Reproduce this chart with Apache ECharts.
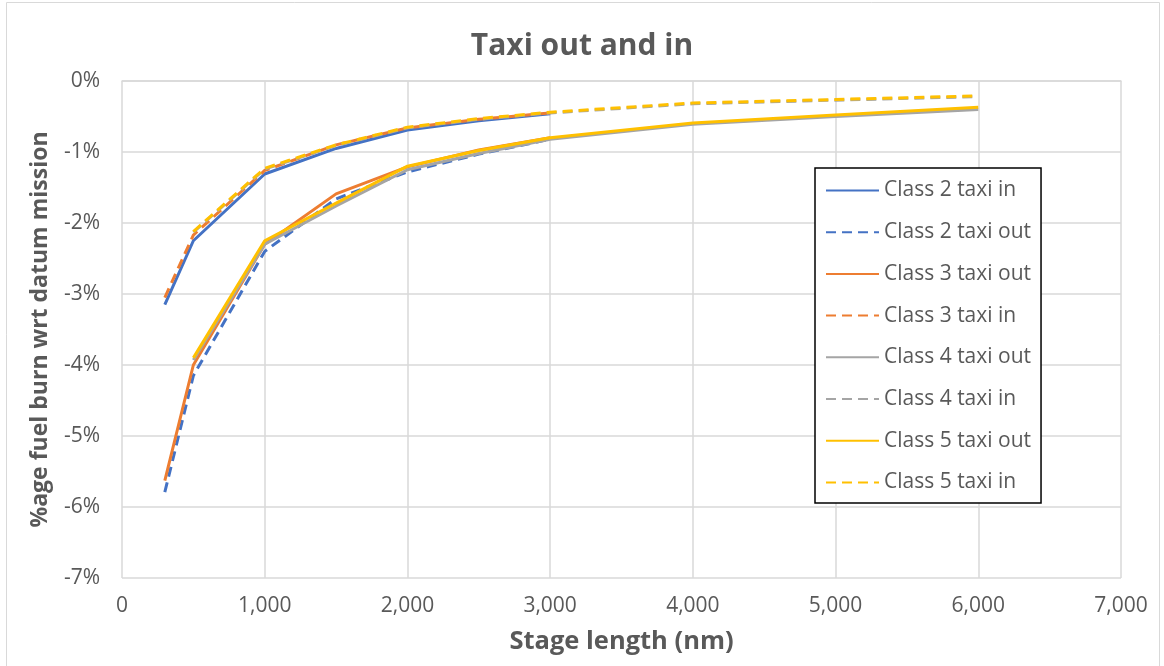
<!DOCTYPE html>
<html><head><meta charset="utf-8">
<script src="https://cdn.jsdelivr.net/npm/echarts@6/dist/echarts.min.js"></script>
<style>html,body{margin:0;padding:0;background:#fff}#c{width:1164px;height:666px}</style>
</head><body><div id="c"></div>
<script>
const stageA = [300, 500, 1000, 1500, 2000, 2500, 3000];
const stageB = [500, 1000, 1500, 2000, 2500, 3000, 4000, 5000, 6000];
const class2In  = [-3.15, -2.25, -1.31, -0.95, -0.69, -0.56, -0.46];
const class2Out = [-5.79, -4.15, -2.40, -1.66, -1.28, -1.03, -0.82];
const class3Out = [-5.63, -4.00, -2.30, -1.59, -1.21, -0.97, -0.80];
const class3In  = [-3.05, -2.17, -1.26, -0.90, -0.66, -0.54, -0.45];
const class4Out = [-3.93, -2.30, -1.76, -1.25, -1.02, -0.82, -0.61, -0.50, -0.40];
const class4In  = [-2.13, -1.24, -0.91, -0.66, -0.54, -0.45, -0.32, -0.27, -0.22];
const class5Out = [-3.90, -2.25, -1.72, -1.20, -0.98, -0.80, -0.59, -0.48, -0.37];
const class5In  = [-2.12, -1.23, -0.90, -0.65, -0.53, -0.44, -0.31, -0.26, -0.21];
const xTicks = [0, 1000, 2000, 3000, 4000, 5000, 6000, 7000];
const yTicks = [-7, -6, -5, -4, -3, -2, -1, 0];

const pairs = (xs, ys) => xs.map((x, i) => [x, ys[i]]);
const mk = (name, xs, ys, color, dashed) => ({
  name, type: 'line', data: pairs(xs, ys), symbol: 'none', showSymbol: false, smooth: false,
  lineStyle: { color, width: 3, type: dashed ? [10, 6] : 'solid' },
  itemStyle: { color }
});
const series = [
  mk('Class 2 taxi in', stageA, class2In, '#4472C4', false),
  mk('Class 2 taxi out', stageA, class2Out, '#4472C4', true),
  mk('Class 3 taxi out', stageA, class3Out, '#ED7D31', false),
  mk('Class 3 taxi in', stageA, class3In, '#ED7D31', true),
  mk('Class 4 taxi out', stageB, class4Out, '#A5A5A5', false),
  mk('Class 4 taxi in', stageB, class4In, '#A5A5A5', true),
  mk('Class 5 taxi out', stageB, class5Out, '#FFC000', false),
  mk('Class 5 taxi in', stageB, class5In, '#FFC000', true)
];
const txt = '#595959';
const chart = echarts.init(document.getElementById('c'), null, { renderer: 'canvas' });
chart.setOption({
  animation: false,
  textStyle: { fontFamily: 'Open Sans, Liberation Sans, sans-serif' },
  title: { text: 'Taxi out and in', left: 'center', top: 26,
    textStyle: { fontSize: 30, fontWeight: 'bold', color: txt, fontFamily: 'Open Sans, sans-serif' } },
  graphic: [{ type: 'rect', shape: { x: 6.5, y: 2.5, width: 1153, height: 670 },
    style: { fill: 'none', stroke: '#d9d9d9', lineWidth: 1 }, silent: true }],
  grid: { left: 122, right: 43, top: 81, bottom: 88, containLabel: false },
  xAxis: {
    type: 'value', min: xTicks[0], max: xTicks[xTicks.length - 1], interval: 1000,
    name: 'Stage length (nm)', nameLocation: 'middle', nameGap: 51,
    nameTextStyle: { fontSize: 25.5, fontWeight: 'bold', color: txt },
    axisLine: { show: true, lineStyle: { color: '#d9d9d9', width: 1.5 } },
    axisTick: { show: false },
    axisLabel: { color: txt, fontSize: 21, margin: 18,
      formatter: v => v.toLocaleString('en-US') },
    splitLine: { show: true, lineStyle: { color: '#d9d9d9', width: 1.5 } }
  },
  yAxis: {
    type: 'value', min: yTicks[0], max: yTicks[yTicks.length - 1], interval: 1,
    name: '%age fuel burn wrt datum mission', nameLocation: 'middle', nameGap: 70,
    nameRotate: 90,
    nameTextStyle: { fontSize: 23, fontWeight: 'bold', color: txt },
    axisLine: { show: false }, axisTick: { show: false },
    axisLabel: { color: txt, fontSize: 21, margin: 22, formatter: v => v + '%' },
    splitLine: { show: true, lineStyle: { color: '#d9d9d9', width: 1.5 } }
  },
  legend: {
    orient: 'vertical', left: 815, top: 168,
    padding: [12, 10, 10, 10], itemGap: 20.7, itemWidth: 53, itemHeight: 14,
    backgroundColor: '#fff', borderColor: '#000', borderWidth: 1.5,
    itemStyle: { opacity: 0 },
    textStyle: { fontSize: 21, color: txt },
    data: series.map(s => s.name)
  },
  series
});
</script></body></html>
